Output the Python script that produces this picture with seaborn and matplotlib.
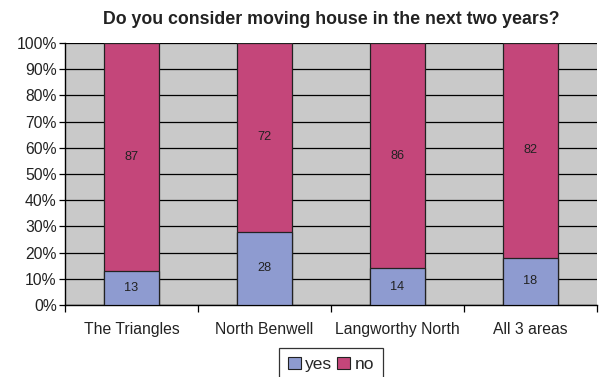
import matplotlib
matplotlib.use("Agg")
import matplotlib.pyplot as plt
import seaborn as sns
import numpy as np
import pandas as pd
from matplotlib.patches import Patch
from matplotlib.ticker import FixedLocator, PercentFormatter

areas = ["The Triangles", "North Benwell", "Langworthy North", "All 3 areas"]
yes_vals = [13, 28, 14, 18]
no_vals = [87, 72, 86, 82]
series_names = ["yes", "no"]
title = "Do you consider moving house in the next two years?"

yes_color = "#8E9BD0"
no_color = "#C4467A"
panel_color = "#C9C9C9"

sns.set_theme(style="white")
plt.rcParams["font.family"] = ["Liberation Sans", "DejaVu Sans"]

df = pd.DataFrame({"area": areas, "yes": yes_vals, "no": no_vals})
df["total"] = df["yes"] + df["no"]

fig = plt.figure(figsize=(6.01, 3.77), dpi=100)
ax = fig.add_axes([65 / 601, 1 - 305 / 377, (597 - 65) / 601, (305 - 43) / 377])
ax.set_facecolor(panel_color)

bar_w = 0.41
sns.barplot(data=df, x="area", y="total", color=no_color, width=bar_w,
            edgecolor="#222222", linewidth=0.9, saturation=1, ax=ax, zorder=3)
sns.barplot(data=df, x="area", y="yes", color=yes_color, width=bar_w,
            edgecolor="#222222", linewidth=0.9, saturation=1, ax=ax, zorder=4)

for i, (y, n) in enumerate(zip(yes_vals, no_vals)):
    ax.text(i, y / 2, f"{y}", ha="center", va="center", fontsize=9.2,
            color="#222222", zorder=5)
    ax.text(i, y + n / 2, f"{n}", ha="center", va="center", fontsize=9.2,
            color="#222222", zorder=5)

ax.set_xlim(-0.5, len(areas) - 0.5)
ax.set_ylim(0, 100)
ax.yaxis.set_major_locator(FixedLocator(np.arange(0, 101, 10)))
ax.yaxis.set_major_formatter(PercentFormatter(decimals=0))
ax.grid(axis="y", color="black", linewidth=0.9, zorder=1)
ax.set_axisbelow(True)

ax.set_xlabel("")
ax.set_ylabel("")
ax.set_title(title, fontsize=12.8, fontweight="bold", color="#222222", pad=14)

for s in ["top", "right"]:
    ax.spines[s].set_visible(False)
for s in ["left", "bottom"]:
    ax.spines[s].set_color("black")
    ax.spines[s].set_linewidth(1.0)

ax.tick_params(axis="y", which="major", left=True, length=4, width=0.9,
               color="black", labelsize=11.3, labelcolor="#222222", pad=2)
ax.tick_params(axis="x", which="major", length=0, labelsize=11.3,
               labelcolor="#222222", pad=12)
ax.xaxis.set_minor_locator(FixedLocator(np.arange(-0.5, len(areas), 1.0)))
ax.tick_params(axis="x", which="minor", bottom=True, length=5, width=0.9,
               color="black")

handles = [Patch(facecolor=yes_color, edgecolor="#222222", linewidth=0.8),
           Patch(facecolor=no_color, edgecolor="#222222", linewidth=0.8)]
leg = fig.legend(handles, series_names, loc="upper left", ncol=2,
                 bbox_to_anchor=(279 / 601, 1 - 348 / 377),
                 frameon=True, fancybox=False, fontsize=12.5,
                 handlelength=0.75, handleheight=0.75, handletextpad=0.25,
                 columnspacing=0.3, borderpad=0.5, borderaxespad=0)
leg.get_frame().set_edgecolor("black")
leg.get_frame().set_linewidth(0.9)

fig.savefig("out.png", dpi=100, facecolor="white")
